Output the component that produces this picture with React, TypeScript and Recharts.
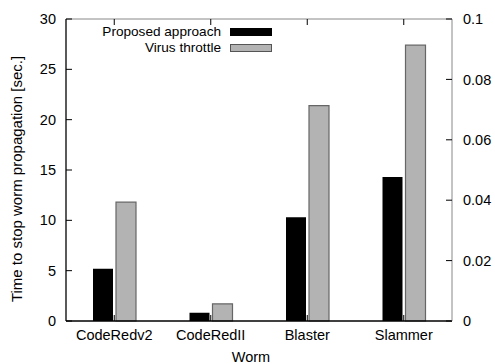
import React from 'react';
import { BarChart, Bar, XAxis, YAxis, Legend, Label } from 'recharts';

const worms = ['CodeRedv2', 'CodeRedII', 'Blaster', 'Slammer'];
const proposedApproach = [5.2, 0.82, 10.3, 14.3];
const virusThrottle = [11.8, 1.7, 21.4, 27.4];
const leftTicks = [0, 5, 10, 15, 20, 25, 30];
const rightTicks = [0, 0.02, 0.04, 0.06, 0.08, 0.1];

const data = worms.map((w, i) => ({
  worm: w,
  proposed: proposedApproach[i],
  throttle: virusThrottle[i],
}));

const FONT = '"Liberation Sans", Arial, Helvetica, sans-serif';
const FS = 14.5;

const LegendContent = () => (
  <div style={{ fontFamily: FONT, fontSize: 13.6, color: '#000' }}>
    {[
      { label: 'Proposed approach', fill: '#000', stroke: '#000' },
      { label: 'Virus throttle', fill: '#b3b3b3', stroke: '#555' },
    ].map((it) => (
      <div key={it.label} style={{ display: 'flex', justifyContent: 'flex-end', alignItems: 'center', height: 15.7 }}>
        <span
          style={{
            display: 'inline-block',
            marginRight: 9,
            lineHeight: '15.7px',
            whiteSpace: 'nowrap',
          }}
        >
          {it.label}
        </span>
        <span
          style={{
            display: 'inline-block',
            width: 40,
            height: 6,
            background: it.fill,
            border: `1px solid ${it.stroke}`,
          }}
        />
      </div>
    ))}
  </div>
);

export default function App() {
  return (
    <div style={{ position: 'absolute', left: 0, top: 0, width: 495, height: 364, background: '#fff' }}>
      <BarChart
        width={495}
        height={364}
        data={data}
        margin={{ top: 0, right: 0, bottom: 0, left: 0 }}
        barSize={20}
        barGap={3}
        style={{ fontFamily: FONT }}
      >
        <XAxis
          xAxisId="top"
          orientation="top"
          dataKey="worm"
          height={19}
          tickSize={-6}
          tickFormatter={() => ''}
          axisLine={{ stroke: '#888', strokeWidth: 1 }}
          tickLine={{ stroke: '#000', strokeWidth: 1 }}
        />
        <XAxis
          xAxisId="bottom"
          dataKey="worm"
          height={43}
          tickSize={-6}
          tickMargin={15}
          axisLine={{ stroke: '#000', strokeWidth: 1.3 }}
          tickLine={{ stroke: '#000', strokeWidth: 1 }}
          tick={{ fill: '#000', fontSize: FS, fontFamily: FONT }}
        >
          <Label
            content={() => (
              <text x={251} y={362} textAnchor="middle" fontSize={FS} fontFamily={FONT} fill="#000">
                Worm
              </text>
            )}
          />
        </XAxis>
        <YAxis
          yAxisId="left"
          width={66}
          domain={[0, 30]}
          ticks={leftTicks}
          tickSize={-6}
          tickMargin={16}
          axisLine={{ stroke: '#000', strokeWidth: 1.3 }}
          tickLine={{ stroke: '#000', strokeWidth: 1 }}
          tick={{ fill: '#000', fontSize: FS, fontFamily: FONT }}
        >
          <Label
            content={() => (
              <text
                x={16}
                y={179}
                transform="rotate(-90 16 179)"
                textAnchor="middle"
                dominantBaseline="central"
                fontSize={15}
                fontFamily={FONT}
                fill="#000"
              >
                Time to stop worm propagation [sec.]
              </text>
            )}
          />
        </YAxis>
        <YAxis
          yAxisId="right"
          orientation="right"
          type="number"
          width={43}
          domain={[0, 0.1]}
          allowDataOverflow
          ticks={rightTicks}
          tickFormatter={(v: number) => String(v)}
          tickSize={-6}
          tickMargin={17}
          axisLine={{ stroke: '#888', strokeWidth: 1 }}
          tickLine={{ stroke: '#000', strokeWidth: 1 }}
          tick={{ fill: '#000', fontSize: FS, fontFamily: FONT }}
        />
        <Legend
          layout="vertical"
          align="center"
          verticalAlign="middle"
          content={LegendContent}
          wrapperStyle={{ position: 'absolute', top: 24, left: 80, width: 192, height: 'auto' }}
        />
        <Bar
          xAxisId="bottom"
          yAxisId="left"
          dataKey="proposed"
          name="Proposed approach"
          fill="#000"
          isAnimationActive={false}
        />
        <Bar
          xAxisId="bottom"
          yAxisId="left"
          dataKey="throttle"
          name="Virus throttle"
          fill="#b3b3b3"
          stroke="#666"
          strokeWidth={1.2}
          isAnimationActive={false}
        />
      </BarChart>
    </div>
  );
}
